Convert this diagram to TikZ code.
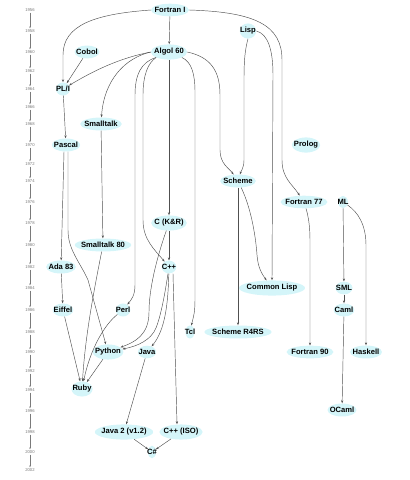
\documentclass[tikz,border=0pt]{standalone}
\usepackage{fontspec}
\setmainfont{Liberation Sans}
\usepackage{xcolor}
\usepackage{tikz}
\usetikzlibrary{arrows.meta, shapes.geometric}
\definecolor{langcyan}{HTML}{D4F5F9}
\definecolor{edgegray}{HTML}{505050}
\definecolor{yeargray}{HTML}{7A7A7A}

\begin{document}
\begin{tikzpicture}[x=1pt, y=-1pt,
    lang/.style={ellipse, fill=langcyan, inner xsep=-2pt, inner ysep=1.8pt,
                 font=\bfseries\fontsize{7.6}{8}\selectfont},
    edge/.style={draw=edgegray, line width=0.45pt, -{Stealth[length=3pt, width=2.2pt]}},
    year/.style={text=yeargray, inner sep=1pt, font=\fontsize{4.2}{5}\selectfont},
    yearlink/.style={draw=yeargray, line width=0.45pt, -{Stealth[length=2pt, width=1.6pt]}}]
    \useasboundingbox (0,0) rectangle (410,480);

    \foreach \yr/\ypos in {1956/10, 1958/31, 1960/52, 1962/71, 1964/89, 1966/107,
        1968/124, 1970/145, 1972/164, 1974/181, 1976/202, 1978/223, 1980/245,
        1982/267, 1984/288, 1986/310, 1988/332, 1990/352, 1992/371, 1994/390,
        1996/411, 1998/432, 2000/452, 2002/470}
      \node[year] (y\yr) at (30,\ypos) {\yr};
    \foreach \a in {1956,1958,...,2000}{
      \pgfmathtruncatemacro{\nxt}{\a+2}
      \draw[yearlink] (y\a) -- (y\nxt);
    }

    \node[lang] (fortranI) at (170,10) {Fortran I};
    \node[lang] (lisp) at (248,31) {Lisp};
    \node[lang] (cobol) at (87,52) {Cobol};
    \node[lang] (algol) at (169,52) {Algol 60};
    \node[lang] (pli) at (63,89) {PL/I};
    \node[lang] (smalltalk) at (101,124) {Smalltalk};
    \node[lang] (pascal) at (66,145) {Pascal};
    \node[lang] (prolog) at (306,145) {Prolog};
    \node[lang] (scheme) at (238,181) {Scheme};
    \node[lang] (fortranSS) at (304,202) {Fortran 77};
    \node[lang] (ml) at (343,202) {ML};
    \node[lang] (ckr) at (169,223) {C (K\&R)};
    \node[lang] (smalltalkEighty) at (103,245) {Smalltalk 80};
    \node[lang] (ada) at (61,267) {Ada 83};
    \node[lang] (cpp) at (169,267) {C++};
    \node[lang] (commonlisp) at (272,288) {Common Lisp};
    \node[lang] (sml) at (344,288) {SML};
    \node[lang] (eiffel) at (63,310) {Eiffel};
    \node[lang] (perl) at (123,310) {Perl};
    \node[lang] (caml) at (344,310) {Caml};
    \node[lang] (tcl) at (190,332) {Tcl};
    \node[lang] (rfourrs) at (238,332) {Scheme R4RS};
    \node[lang] (python) at (108,352) {Python};
    \node[lang] (java) at (147,352) {Java};
    \node[lang] (fortranNN) at (310,352) {Fortran 90};
    \node[lang] (haskell) at (366,352) {Haskell};
    \node[lang] (ruby) at (82,389) {Ruby};
    \node[lang] (ocaml) at (342,410) {OCaml};
    \node[lang] (javaTwo) at (124,432) {Java 2 (v1.2)};
    \node[lang] (cppiso) at (181,432) {C++ (ISO)};
    \node[lang] (csharp) at (152,452) {C\#};

    \draw[edge] (fortranI) -- (algol);
    \draw[edge] (fortranI.west) .. controls (95,14) and (63,25) .. (63,55) -- (pli.north);
    \draw[edge] (fortranI.east) .. controls (255,12) and (282,25) .. (282,60) -- (282,160)
      .. controls (282,178) and (292,184) .. (fortranSS);
    \draw[edge] (lisp.south) .. controls (245,50) and (244,60) .. (244,80) -- (244,160)
      .. controls (244,168) and (241,171) .. (scheme);
    \draw[edge] (lisp.east) .. controls (268,34) and (273,50) .. (273,75) -- (commonlisp.north);
    \draw[edge] (algol.east) .. controls (210,57) and (220,70) .. (220,95) -- (220,150)
      .. controls (220,164) and (229,168) .. (scheme);
    \draw[edge] (algol.south east) .. controls (192,62) and (195,75) .. (195,92) -- (195,300)
      .. controls (195,314) and (193,318) .. (tcl);
    \draw[edge] (algol) -- (ckr);
    \draw[edge] (algol.south west) .. controls (148,63) and (143,75) .. (143,95) -- (143,220)
      .. controls (143,240) and (155,250) .. (cpp);
    \draw[edge] (algol.south west) .. controls (141,62) and (135,75) .. (135,95) -- (135,285)
      .. controls (135,296) and (131,300) .. (perl);
    \draw[edge] (algol.west) .. controls (125,58) and (104,80) .. (smalltalk);
    \draw[edge] (algol.west) .. controls (120,58) and (95,70) .. (pli);
    \draw[edge] (cobol) -- (pli);
    \draw[edge] (pli) -- (pascal);
    \draw[edge] ([xshift=-2pt]pascal.south) -- (ada);
    \draw[edge] ([xshift=2pt]pascal.south) -- (68,230) .. controls (68,250) and (80,262) .. (88,280)
      -- (python);
    \draw[edge] (smalltalk) -- (smalltalkEighty);
    \draw[edge] (smalltalkEighty) .. controls (92,300) and (85,340) .. (ruby);
    \draw[edge] (ada) -- (eiffel);
    \draw[edge] (eiffel) -- (ruby);
    \draw[edge] (perl) .. controls (104,325) and (90,350) .. (ruby);
    \draw[edge] (python) -- (ruby);
    \draw[edge] (ckr) -- (cpp);
    \draw[edge] (ckr) .. controls (156,260) and (149,290) .. (149,312)
      .. controls (149,335) and (135,342) .. (python);
    \draw[edge] (cpp) .. controls (164,300) and (160,318) .. (156,328)
      .. controls (151,340) and (138,346) .. (python);
    \draw[edge] (cpp) .. controls (168,305) and (165,330) .. (java);
    \draw[edge] ([xshift=4pt]cpp.south) -- ([xshift=-4pt]cppiso.north);
    \draw[edge] (java) -- (javaTwo);
    \draw[edge] (javaTwo) -- (csharp);
    \draw[edge] (cppiso) -- (csharp);
    \draw[edge] (scheme) -- (rfourrs);
    \draw[edge] (scheme) .. controls (252,210) and (256,240) .. (257,255)
      .. controls (258,268) and (262,274) .. (commonlisp);
    \draw[edge] (fortranSS) .. controls (308,215) and (310,225) .. (310,240) -- (fortranNN);
    \draw[edge] (ml) -- (sml);
    \draw[edge] (ml) .. controls (358,212) and (366,225) .. (366,245) -- (haskell);
    \draw[edge] (sml) -- (caml);
    \draw[edge] (caml) -- (ocaml);
\end{tikzpicture}
\end{document}
